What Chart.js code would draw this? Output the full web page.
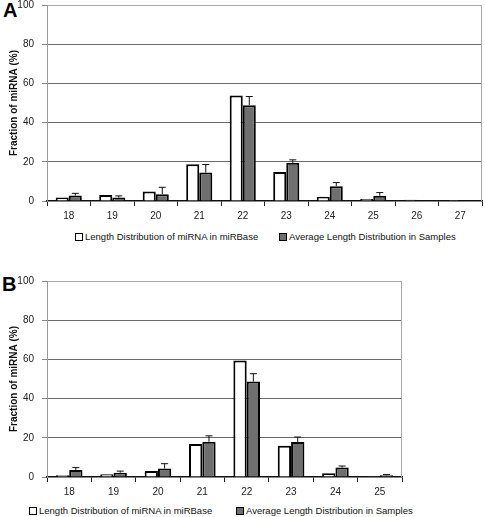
<!DOCTYPE html>
<html>
<head>
<meta charset="utf-8">
<script src="https://cdn.jsdelivr.net/npm/chart.js@4/dist/chart.umd.min.js"></script>
<style>
  body { margin: 0; background: #fff; width: 485px; height: 517px; position: relative; overflow: hidden; font-family: "Liberation Sans", Arial, sans-serif; }
  .panel { position: absolute; left: 0; width: 485px; }
  .tag { position: absolute; font-weight: bold; font-size: 20px; color: #000; }
  .legend { position: absolute; font-size: 9.5px; color: #111; white-space: nowrap; }
  .legend span.box { display: inline-block; width: 6px; height: 6px; border: 1px solid #000; vertical-align: -1px; margin-right: 2px; }
</style>
</head>
<body>
<div class="tag" style="left:3px; top:-1px;">A</div>
<div class="tag" style="left:2px; top:273px;">B</div>
<div class="panel" style="top:-9px; height:231px;"><canvas id="chartA"></canvas></div>
<div class="panel" style="top:267px; height:231px;"><canvas id="chartB"></canvas></div>

<div class="legend" style="left:75px; top:231px;"><span class="box" style="background:#fff"></span>Length Distribution of miRNA in miRBase</div>
<div class="legend" style="left:279px; top:231px;"><span class="box" style="background:#6f6f6f"></span>Average Length Distribution in Samples</div>
<div class="legend" style="left:29px; top:505px;"><span class="box" style="background:#fff"></span>Length Distribution of miRNA in miRBase</div>
<div class="legend" style="left:236px; top:505px;"><span class="box" style="background:#6f6f6f"></span>Average Length Distribution in Samples</div>

<script>
// --- données panneau A ---
const lengthsA = ['18', '19', '20', '21', '22', '23', '24', '25', '26', '27'];
const mirbaseA = [1.8, 3.0, 4.9, 18.7, 53.8, 14.8, 2.2, 1.0, 0.6, 0.5];
const samplesA = [2.8, 1.8, 3.5, 14.5, 48.9, 19.5, 7.5, 2.7, 0.3, 0.0];
const errorsA  = [1.1, 0.8, 3.5, 4.1, 4.4, 1.5, 1.9, 1.6, 0, 0];

// --- données panneau B ---
const lengthsB = ['18', '19', '20', '21', '22', '23', '24', '25'];
const mirbaseB = [0.9, 1.4, 3.1, 16.8, 59.5, 15.9, 1.9, 0.4];
const samplesB = [3.6, 2.2, 4.4, 18.0, 48.7, 17.9, 4.8, 0.9];
const errorsB  = [1.2, 0.8, 2.4, 3.0, 4.0, 2.5, 0.8, 0.4];

const yTicks = [0, 20, 40, 60, 80, 100];
const yTitle = 'Fraction of miRNA (%)';
const seriesNames = ['Length Distribution of miRNA in miRBase', 'Average Length Distribution in Samples'];

const FONT = '"Liberation Sans", Arial, sans-serif';

// barres d'erreur (seulement vers le haut) pour la série grise
const errorBarPlugin = {
    id: 'errorBars',
    afterDatasetsDraw(chart, args, opts) {
        const meta = chart.getDatasetMeta(1);
        const yScale = chart.scales.y;
        const values = chart.data.datasets[1].data;
        const ctx = chart.ctx;
        ctx.save();
        ctx.strokeStyle = '#111';
        ctx.lineWidth = 1;
        meta.data.forEach((bar, i) => {
            const err = opts.errors[i];
            if (!err) return;
            const yTop = yScale.getPixelForValue(values[i] + err);
            ctx.beginPath();
            ctx.moveTo(bar.x, bar.y);
            ctx.lineTo(bar.x, yTop);
            ctx.moveTo(bar.x - 3.5, yTop);
            ctx.lineTo(bar.x + 3.5, yTop);
            ctx.stroke();
        });
        ctx.restore();
    }
};

// bord droit du cadre
const frameRightPlugin = {
    id: 'frameRight',
    beforeDatasetsDraw(chart) {
        const a = chart.chartArea;
        const ctx = chart.ctx;
        ctx.save();
        ctx.strokeStyle = '#a8a8a8';
        ctx.lineWidth = 1;
        ctx.beginPath();
        ctx.moveTo(a.right - 0.5, a.top);
        ctx.lineTo(a.right - 0.5, a.bottom);
        ctx.stroke();
        ctx.restore();
    }
};

function makeChart(id, labels, white, grey, errors, padRight) {
    const ctx = document.getElementById(id).getContext('2d');
    return new Chart(ctx, {
        type: 'bar',
        data: {
            labels: labels,
            datasets: [{
                label: seriesNames[0],
                data: white,
                backgroundColor: '#ffffff',
                borderColor: '#000',
                borderWidth: 2,
                categoryPercentage: 0.6,
                barPercentage: 1.0
            }, {
                label: seriesNames[1],
                data: grey,
                backgroundColor: '#6f6f6f',
                borderColor: '#000',
                borderWidth: 2,
                categoryPercentage: 0.6,
                barPercentage: 1.0
            }]
        },
        options: {
            responsive: true,
            maintainAspectRatio: false,
            animation: false,
            layout: { padding: { left: 0, right: padRight, top: 0, bottom: 0 } },
            plugins: {
                legend: { display: false },
                tooltip: { enabled: false },
                errorBars: { errors: errors }
            },
            scales: {
                x: {
                    afterFit: s => { s.height = 21; },
                    grid: {
                        offset: true,
                        drawOnChartArea: false,
                        tickLength: 5,
                        color: '#222',
                        lineWidth: 1
                    },
                    border: { color: '#111', width: 1.5 },
                    ticks: { font: { family: FONT, size: 10 }, color: '#222', padding: 4 }
                },
                y: {
                    min: 0,
                    max: 100,
                    afterFit: s => { s.width = 47; },
                    afterBuildTicks: s => { s.ticks = yTicks.map(v => ({ value: v })); },
                    grid: {
                        tickLength: 5,
                        color: c => c.tick.value === 100 ? '#a8a8a8' : (c.tick.value === 0 ? 'rgba(0,0,0,0)' : '#6a6a6a'),
                        tickColor: '#888',
                        lineWidth: 1
                    },
                    border: { color: '#999', width: 1 },
                    ticks: { font: { family: FONT, size: 10 }, color: '#222', padding: 8 },
                    title: {
                        display: true,
                        text: yTitle,
                        font: { family: FONT, size: 10, weight: 'bold' },
                        color: '#111',
                        padding: { top: 8, bottom: 0 }
                    }
                }
            }
        },
        plugins: [errorBarPlugin, frameRightPlugin]
    });
}

makeChart('chartA', lengthsA, mirbaseA, samplesA, errorsA, 3);
makeChart('chartB', lengthsB, mirbaseB, samplesB, errorsB, 83);
</script>
</body>
</html>
